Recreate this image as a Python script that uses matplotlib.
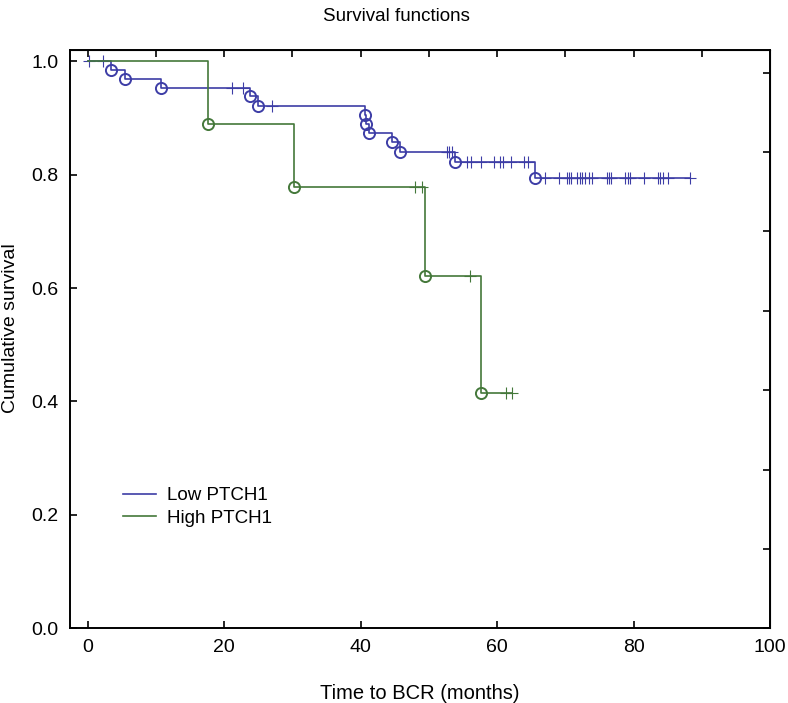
import numpy as np
import matplotlib
matplotlib.use("Agg")
import matplotlib.pyplot as plt

plt.rcParams['font.family'] = ['Liberation Sans', 'DejaVu Sans']

# Kaplan-Meier estimates
low_event_t = [3.4, 5.5, 10.7, 23.8, 25.0, 40.6, 40.8, 41.2, 44.6, 45.7, 53.9, 65.5]
low_surv = [0.985, 0.969, 0.953, 0.938, 0.922, 0.906, 0.890, 0.874, 0.857, 0.840, 0.822, 0.795]
low_censor = [0.2, 2.2, 21.1, 22.7, 27.0, 52.6, 53.0, 53.4,
              55.6, 56.2, 57.7, 59.6, 60.4, 60.9, 62.0, 64.0, 64.5,
              67.0, 69.0, 70.2, 70.6, 70.9, 71.7, 72.1, 72.5, 72.9, 73.4, 73.9,
              76.1, 76.4, 76.7, 78.8, 79.2, 79.5, 81.5, 83.6, 83.9, 84.3, 85.1, 88.2]

high_event_t = [17.6, 30.2, 49.5, 57.7]
high_surv = [0.889, 0.778, 0.622, 0.415]
high_censor = [48.0, 49.0, 56.0, 61.3, 62.2]

blue = '#3d3da6'
green = '#44783a'


def draw_curve(ax, ev_t, surv, cens, color, label):
    t = np.array([0.0] + ev_t)
    s = np.array([1.0] + surv)
    end = max(max(cens), t[-1])
    ax.step(np.append(t, end), np.append(s, s[-1]), where='post',
            color=color, lw=1.2, label=label)
    # circles at events
    ax.plot(ev_t, surv, 'o', mfc='none', mec=color, ms=8, mew=1.4)
    # censor marks
    c = np.array(cens)
    cy = s[np.searchsorted(t, c, side='right') - 1]
    ax.plot(c, cy, '+', color=color, ms=9, mew=0.8)


fig = plt.figure(figsize=(7.88, 7.03), dpi=100)
ax = fig.add_axes([0.0888, 0.1063, 0.8884, 0.8226])

draw_curve(ax, low_event_t, low_surv, low_censor, blue, 'Low PTCH1')
draw_curve(ax, high_event_t, high_surv, high_censor, green, 'High PTCH1')

ax.set_xlim(-2.6, 100)
ax.set_ylim(0, 1.02)
ax.set_xticks(np.arange(0, 101, 20))
ax.set_yticks(np.arange(0, 1.01, 0.2))
ax.set_yticklabels([f'{v:.1f}' for v in np.arange(0, 1.01, 0.2)])
ax.tick_params(direction='in', length=5, width=1.2, labelsize=14, pad=8)
for sp in ax.spines.values():
    sp.set_linewidth(1.4)

top = ax.secondary_xaxis('top')
top.set_xticks(np.arange(0, 91, 10))
top.tick_params(direction='in', length=5, width=1.2, labeltop=False)
right = ax.secondary_yaxis('right')
right.set_yticks(np.arange(0, 1.0, 0.14))
right.tick_params(direction='in', length=5, width=1.2, labelright=False)

ax.set_xlabel('Time to BCR (months)', fontsize=14.5, labelpad=20)
fig.text(0.0135, 0.5334, 'Cumulative survival', rotation=90,
         ha='center', va='center', fontsize=14)
fig.text(0.503, 0.977, 'Survival functions', ha='center', va='center',
         fontsize=13.5)

ax.legend(loc='upper left', bbox_to_anchor=(0.0757, 0.2443), frameon=False,
          fontsize=13.5, handlelength=1.75, handletextpad=0.6,
          labelspacing=0.3, borderpad=0, borderaxespad=0)

fig.savefig('out.png')
